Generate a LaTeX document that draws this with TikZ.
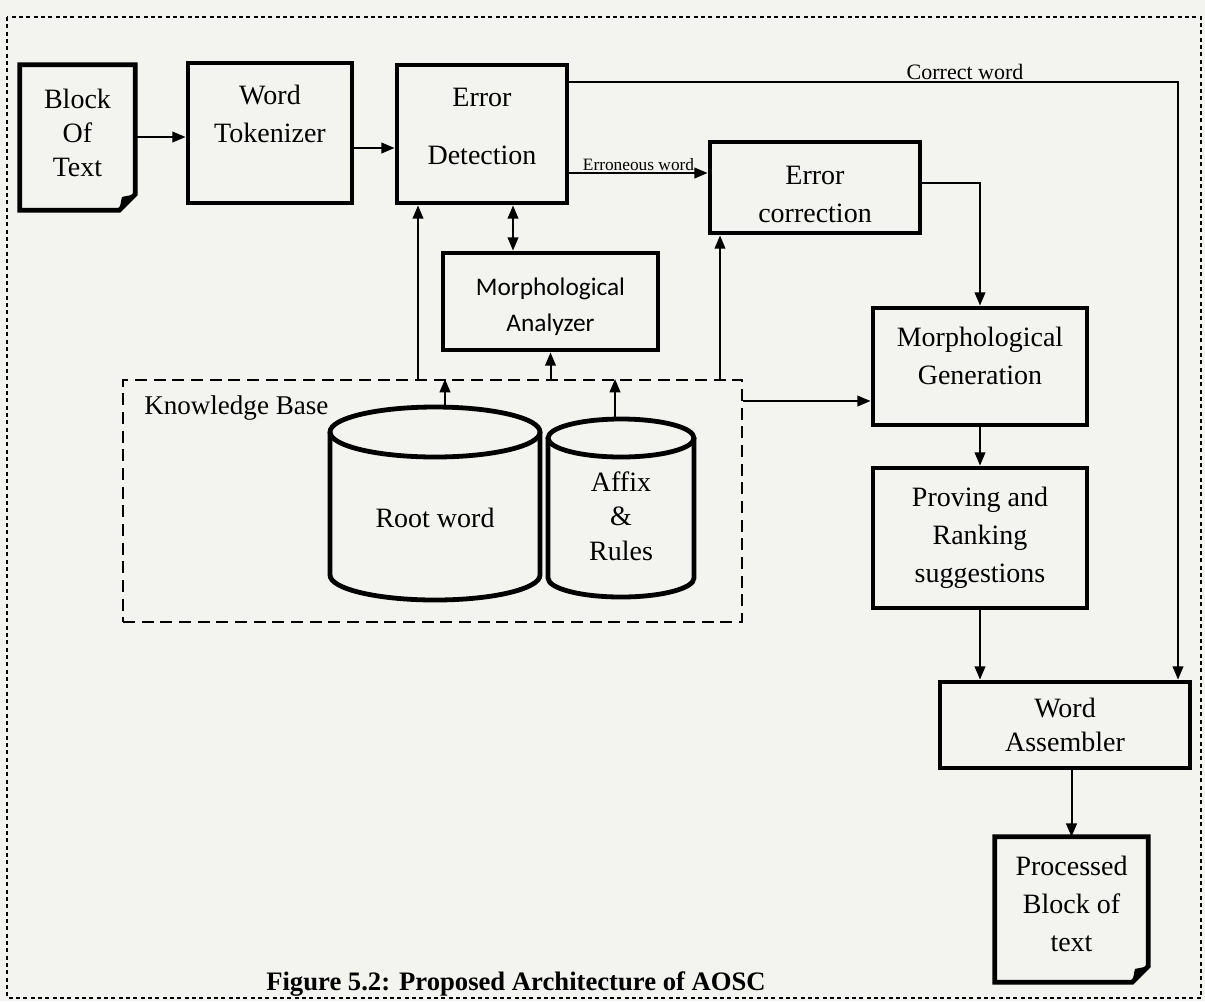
\documentclass[tikz,border=0pt]{standalone}
\usepackage{fontspec}
\setmainfont{Liberation Serif}
\newfontfamily\calib{Carlito}
\usetikzlibrary{arrows.meta,calc}
\definecolor{paper}{RGB}{243,243,239}
\tikzset{
  box/.style={draw, line width=3.6pt, fill=paper, align=center, inner sep=0pt,
              font=\fontsize{21}{28.5}\selectfont},
  doc/.style={draw=none, align=center, inner sep=0pt, font=\fontsize{21}{28.5}\selectfont},
  docline/.style={line width=3.6pt, line join=miter},
  conn/.style={line width=1.5pt, -{Triangle[length=10pt,width=8pt]}},
  dconn/.style={line width=1.5pt, {Triangle[length=10pt,width=8pt]}-{Triangle[length=10pt,width=8pt]}},
  kbbox/.style={draw, line width=1.5pt, dash pattern=on 9pt off 5pt},
  lbl/.style={inner sep=1pt},
  txt/.style={align=center, inner sep=0pt, font=\fontsize{21}{26}\selectfont}
}
\begin{document}
\begin{tikzpicture}[x=0.75pt,y=-0.75pt]
\useasboundingbox (0,0) rectangle (1205,1001);
\fill[paper] (0,0) rectangle (1205,1001);
% outer frame
\draw[line width=1.6pt, dash pattern=on 3pt off 2.5pt] (7,17) rectangle (1201,998);

% helper coordinates
\coordinate (y148) at (0,148);
\coordinate (y173) at (0,173);
\coordinate (y183) at (0,183);
\coordinate (y401) at (0,401);
\coordinate (x418) at (418,0);
\coordinate (x513) at (513,0);
\coordinate (x720) at (720,0);
\coordinate (cwc) at (1178,82);

% knowledge base
\node[kbbox, minimum width=464.25pt, minimum height=181.5pt] (kb) at (432.5,501) {};
\node[anchor=west, inner sep=0pt, font=\fontsize{20.3}{24}\selectfont] (kbl) at (144,408) {Knowledge Base};

% cylinders
\draw[line width=3.6pt, fill=paper] (330,432) -- (330,575) arc[start angle=180, end angle=0, x radius=105, y radius=25] -- (540,432);
\draw[line width=3.6pt] (435,432) ellipse [x radius=105, y radius=25];
\coordinate (rtop) at (445,407);
\node[txt] (rootl) at (435,518) {Root word};

\draw[line width=3.6pt, fill=paper] (548,438) -- (548,578) arc[start angle=180, end angle=0, x radius=73, y radius=19] -- (694,438);
\draw[line width=3.6pt] (621,438) ellipse [x radius=73, y radius=19];
\coordinate (ftop) at (615,419);
\node[txt] (affl) at (621,516) {Affix\\\&\\Rules};

% boxes
\node[doc, minimum width=86.25pt, minimum height=108.75pt, font=\fontsize{21}{25.5}\selectfont] (bot) at (77.5,137.5) {Block\\Of\\Text\\[-19pt]\mbox{}};
\node[box, minimum width=123pt, minimum height=105pt] (tok) at (270,133) {Word\\Tokenizer\\\mbox{}};
\node[box, minimum width=127.5pt, minimum height=103.5pt] (ed) at (482,134) {Error\\[15pt]Detection\\[-16.5pt]\mbox{}};
\node[box, minimum width=157.5pt, minimum height=68.25pt] (ec) at (815,187.5) {\mbox{}\\[-4.5pt]Error\\correction};
\node[box, minimum width=161.25pt, minimum height=72.75pt, font=\calib\fontsize{19}{27.5}\selectfont] (ma) at (550.5,301.5) {\mbox{}\\[-6.5pt]Morphological\\Analyzer};
\node[box, minimum width=160.5pt, minimum height=87.75pt] (mg) at (980,366.5) {Morphological\\Generation\\[-12pt]\mbox{}};
\node[box, minimum width=160.5pt, minimum height=105pt] (pr) at (980,538) {Proving and\\Ranking\\suggestions};
\node[box, minimum width=187.5pt, minimum height=64.5pt, font=\fontsize{21}{25}\selectfont] (wa) at (1065,725) {Word\\Assembler};
\node[doc, minimum width=114.75pt, minimum height=108.75pt] (pb) at (1071.5,909.5) {Processed\\Block of\\text\\[-20pt]\mbox{}};

% document outlines
\draw[docline] (bot.north west) -- (bot.north east) -- ([yshift=12pt]bot.south east) -- ([xshift=-12pt]bot.south east) -- (bot.south west) -- cycle;
\fill ([yshift=12pt]bot.south east) -- ([xshift=-12pt]bot.south east) -- ([xshift=-10pt,yshift=10pt]bot.south east) -- cycle;
\draw[docline] (pb.north west) -- (pb.north east) -- ([yshift=12pt]pb.south east) -- ([xshift=-12pt]pb.south east) -- (pb.south west) -- cycle;
\fill ([yshift=12pt]pb.south east) -- ([xshift=-12pt]pb.south east) -- ([xshift=-10pt,yshift=10pt]pb.south east) -- cycle;

% connectors
\draw[conn] (bot.east |- tok.center) ++(0,4) coordinate (b1) -- (b1 -| tok.west);
\draw[conn] (tok.east |- y148) -- (ed.west |- y148);
\draw[conn] (ed.east |- y173) -- node[lbl, above, font=\fontsize{13}{15}\selectfont] (ewl) {Erroneous word} (ec.west |- y173);
\draw[conn] (ed.east |- cwc) -- (cwc) -- (cwc |- wa.north);
\node[lbl, font=\fontsize{16.5}{19}\selectfont] (cwl) at (965,72) {Correct word};
\draw[conn] (ec.east |- y183) -| (mg.north);
\draw[conn] (mg.south) -- (pr.north);
\draw[conn] (pr.south) -- (pr.south |- wa.north);
\draw[conn] (pb.north |- wa.south) -- (pb.north);
\draw[dconn] (ed.south -| x513) -- (ma.north -| x513);
\draw[conn] (kb.north -| x418) -- (ed.south -| x418);
\draw[conn] (kb.north -| ma.south) -- (ma.south);
\draw[conn] (kb.north -| x720) -- (ec.south -| x720);
\draw[conn] (rtop) -- (rtop |- kb.north);
\draw[conn] (ftop) -- (ftop |- kb.north);
\draw[conn] (kb.east |- y401) -- (mg.west |- y401);

% caption
\node[inner sep=0pt, font=\bfseries\fontsize{20}{24}\selectfont] (cap) at (516,984) {Figure 5.2: Proposed Architecture of AOSC};
\end{tikzpicture}
\end{document}
